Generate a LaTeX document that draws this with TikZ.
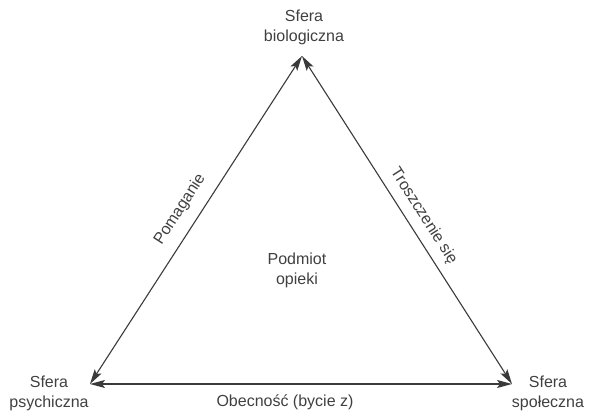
\documentclass[tikz,border=0pt]{standalone}
\usepackage{fontspec}
\setmainfont{Liberation Sans}
\usetikzlibrary{arrows.meta}
\definecolor{ink}{HTML}{3A3A3A}
\definecolor{txt}{HTML}{404040}
\tikzset{
  side/.style={draw=ink, line width=1.1pt,
    {Stealth[length=15pt,width=8pt,inset=3pt]}-{Stealth[length=15pt,width=8pt,inset=3pt]}},
  label/.style={text=txt, font=\fontsize{16}{20}\selectfont, align=center, inner sep=2pt},
  edgelabel/.style={text=txt, font=\fontsize{16}{20}\selectfont, sloped, inner sep=2pt}
}
\begin{document}
\begin{tikzpicture}[x=1pt,y=1pt]
  \useasboundingbox (0,0) rectangle (595,412);
  % corners of the triangle
  \coordinate (top) at (302,356);
  \coordinate (left) at (90,28);
  \coordinate (right) at (512,28);
  % sphere labels
  \node[label] (bio) at (304,385) {Sfera\\biologiczna};
  \node[label] (psy) at (49,19) {Sfera\\psychiczna};
  \node[label] (spo) at (548,19) {Sfera\\społeczna};
  \node[label] (center) at (297,142) {Podmiot\\opieki};
  % sides
  \draw[side] (left) -- node[edgelabel, above=9pt] (pom) {Pomaganie} (top);
  \draw[side] (top) -- node[edgelabel, pos=0.515, above=6pt] (tro) {Troszczenie się} (right);
  \draw[side] (left) -- (right);
  \node[label, anchor=center] (obe) at (285,10) {Obecność (bycie z)};
\end{tikzpicture}
\end{document}
